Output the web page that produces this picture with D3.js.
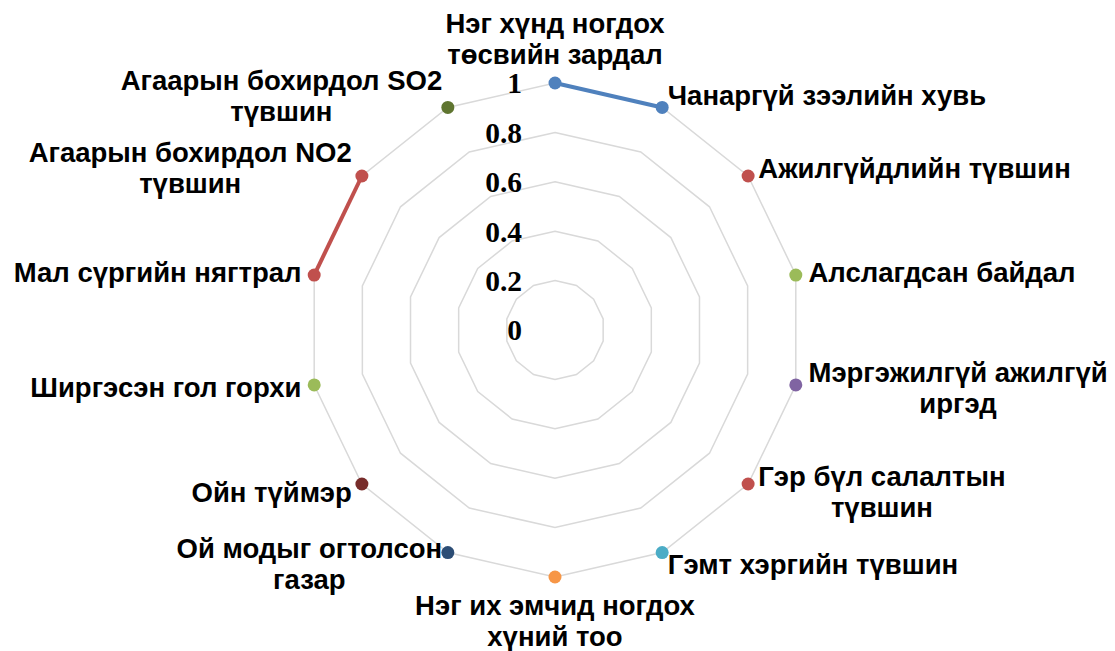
<!DOCTYPE html>
<html>
<head>
<meta charset="utf-8">
<script src="https://cdn.jsdelivr.net/npm/d3@7"></script>
<style>
	body { margin: 0; background: #fff; }
	svg { display: block; }
</style>
</head>
<body>
<svg id="chart" width="1115" height="651"></svg>
<script>
// axes of the radar, clockwise from the top
var categories = [
	'Нэг хүнд ногдох\nтөсвийн зардал',
	'Чанаргүй зээлийн хувь',
	'Ажилгүйдлийн түвшин',
	'Алслагдсан байдал',
	'Мэргэжилгүй ажилгүй\nиргэд',
	'Гэр бүл салалтын\nтүвшин',
	'Гэмт хэргийн түвшин',
	'Нэг их эмчид ногдох\nхүний тоо',
	'Ой модыг огтолсон\nгазар',
	'Ойн түймэр',
	'Ширгэсэн гол горхи',
	'Мал сүргийн нягтрал',
	'Агаарын бохирдол NO2\nтүвшин',
	'Агаарын бохирдол SO2\nтүвшин'
];

// each series sits on one or two neighbouring axes
var seriesAxes = [[0, 1], [2], [3], [4], [5], [6], [7], [8], [9], [10], [11, 12], [13]];
var seriesValues = [[1, 1], [1], [1], [1], [1], [1], [1], [1], [1], [1], [1, 1], [1]];
var seriesColors = ['#4f81bd', '#c0504d', '#9bbb59', '#8064a2', '#c0504d', '#4bacc6',
	'#f79646', '#2c4d75', '#772c2a', '#9bbb59', '#c0504d', '#5f7530'];

var tickValues = [0, 0.2, 0.4, 0.6, 0.8, 1];
var tickLabels = ['0', '0.2', '0.4', '0.6', '0.8', '1'];

var svg = d3.select('#chart'),
	cx = 555,
	cy = 330,
	n = categories.length;

var r = d3.scaleLinear().domain([0, 1]).range([0, 247]);
var angle = d3.scaleLinear().domain([0, n]).range([0, 2 * Math.PI]);

function pos(i, v) {
	var a = angle(i);
	return [cx + r(v) * Math.sin(a), cy - r(v) * Math.cos(a)];
}

var g = svg.append('g');

// grid rings
g.selectAll('polygon.ring')
	.data(tickValues.filter(function (d) { return d > 0; }))
	.enter().append('polygon')
	.attr('class', 'ring')
	.attr('points', function (v) {
		return d3.range(n).map(function (i) { return pos(i, v); }).join(' ');
	})
	.style('fill', 'none')
	.style('stroke', '#d9d9d9')
	.style('stroke-width', 1.5);

// value labels
g.selectAll('text.tick')
	.data(tickValues)
	.enter().append('text')
	.attr('class', 'tick')
	.attr('x', cx - 33)
	.attr('y', function (v) { return cy - r(v); })
	.attr('dy', '0.35em')
	.attr('text-anchor', 'end')
	.style('font-family', '"Liberation Serif", "Times New Roman", serif')
	.style('font-weight', 'bold')
	.style('font-size', '29.5px')
	.text(function (d, i) { return tickLabels[i]; });

// series lines and markers
seriesAxes.forEach(function (axes, s) {
	var pts = axes.map(function (a, k) { return pos(a, seriesValues[s][k]); });
	if (pts.length > 1) {
		g.append('path')
			.attr('d', d3.line()(pts))
			.style('fill', 'none')
			.style('stroke', seriesColors[s])
			.style('stroke-width', 4);
	}
	g.selectAll(null)
		.data(pts)
		.enter().append('circle')
		.attr('cx', function (p) { return p[0]; })
		.attr('cy', function (p) { return p[1]; })
		.attr('r', 6.5)
		.style('fill', seriesColors[s]);
});

// category labels
var fontSize = 27.5,
	lineH = 31,
	gap = 13;

categories.forEach(function (label, i) {
	var a = angle(i),
		s = Math.sin(a),
		c = Math.cos(a),
		anchor = pos(i, 1),
		ax = anchor[0] + gap * s,
		ay = anchor[1] - gap * c,
		lines = label.split('\n'),
		h = lines.length * lineH,
		w = 0,
		left, top;

	var text = g.append('text')
		.attr('text-anchor', 'middle')
		.style('font-family', '"Liberation Sans", Arial, sans-serif')
		.style('font-weight', 'bold')
		.style('font-size', fontSize + 'px')
		.style('fill', '#000');

	var spans = lines.map(function (line) {
		var t = text.append('tspan').text(line);
		w = Math.max(w, t.node().getComputedTextLength());
		return t;
	});

	if (s > 0.1) left = ax;
	else if (s < -0.1) left = ax - w;
	else left = ax - w / 2;

	if (Math.abs(s) <= 0.1) top = c > 0 ? ay - h : ay;
	else top = ay - h / 2;

	spans.forEach(function (t, k) {
		t.attr('x', left + w / 2)
			.attr('y', top + lineH * k + lineH / 2 + fontSize * 0.35);
	});
});
</script>
</body>
</html>
